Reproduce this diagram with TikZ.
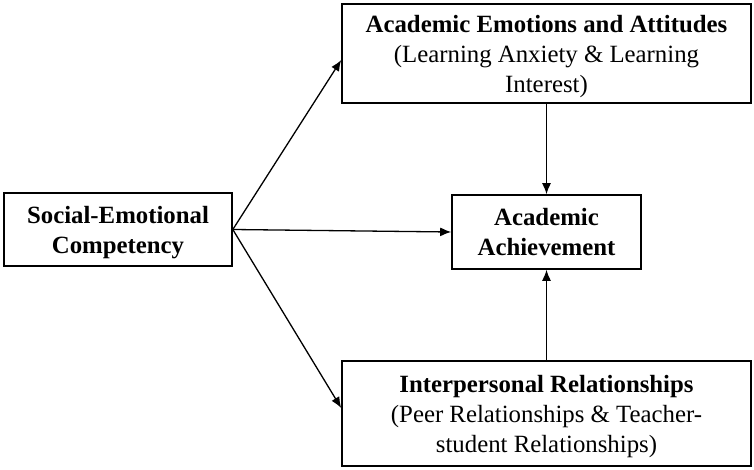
\documentclass[tikz,border=0pt]{standalone}
\usepackage{fontspec}
\setmainfont{Liberation Serif}
\usetikzlibrary{arrows.meta}
\newcommand{\topstrut}{\rule{0pt}{23.5pt}}
\begin{document}
\begin{tikzpicture}[x=1pt,y=-1pt,
  box/.style={draw,line width=1.6pt,rectangle,align=center,inner sep=0pt,
    font=\fontsize{24.8}{30}\selectfont},
  arr/.style={line width=1.3pt,-{Latex[length=11pt,width=9pt]}}]
\useasboundingbox (0,0) rectangle (754,470);
\node[box,minimum width=409pt,minimum height=99pt] (T) at (546.5,53.5)
  {\topstrut\textbf{Academic Emotions and Attitudes}\\(Learning Anxiety \& Learning\\Interest)};
\node[box,minimum width=228pt,minimum height=73pt] (L) at (118,229.5)
  {\topstrut\textbf{Social-Emotional}\\\textbf{Competency}};
\node[box,minimum width=189pt,minimum height=74pt] (M) at (546.5,232)
  {\textbf{Academic}\\\textbf{Achievement}};
\node[box,minimum width=409pt,minimum height=105pt] (B) at (546.5,413.5)
  {\topstrut\textbf{Interpersonal Relationships}\\(Peer Relationships \& Teacher-\\student Relationships)};
\draw[arr] (L.east) -- ([yshift=-6.5pt]T.west);
\draw[arr] (L.east) -- (M.west);
\draw[arr] (L.east) -- ([yshift=5.5pt]B.west);
\draw[arr] (T.south) -- (M.north);
\draw[arr] (B.north) -- (M.south);
\end{tikzpicture}
\end{document}
